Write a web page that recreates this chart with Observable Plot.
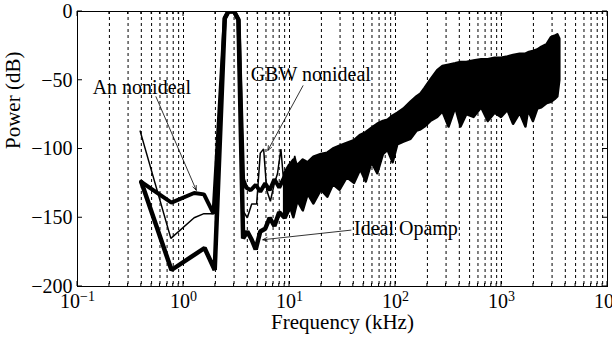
<!DOCTYPE html>
<html><head><meta charset="utf-8">
<script src="https://cdn.jsdelivr.net/npm/d3@7"></script>
<script src="https://cdn.jsdelivr.net/npm/@observablehq/plot@0.6"></script>
<style>
body{margin:0;background:#fff}
#chart svg{background:#fff}
#chart svg, #chart svg text, #chart svg tspan{font-family:"Liberation Serif","Times New Roman",serif !important;}
</style></head><body><div id="chart"></div>
<script>
// ---- tick values ----
const xTickExps = [-1, 0, 1, 2, 3, 4];
const yTicks = [0, -50, -100, -150, -200];

// ---- Ideal Opamp (thick, lower branch) ----
const freqIdeal = [0.40, 0.77, 1.58, 1.97, 2.45, 2.65, 3.0, 3.3, 3.65, 4.0, 4.4, 4.8, 5.3, 5.9, 6.5, 7.2, 8.0, 9.0, 10.0, 11.0];
const powIdeal  = [-124, -188, -172, -188, -5, 0, 0, -6, -165, -160, -166, -173, -160, -158, -150, -156, -146, -150, -142, -140];

// ---- An nonideal (thick, upper branch) ----
const freqAn = [0.40, 0.77, 1.26, 1.56, 1.92, 2.45, 2.65, 3.0, 3.3, 3.65, 3.9, 4.3, 4.8, 5.3, 5.9, 6.5, 7.2, 8.0, 9.0, 10.0, 11.0];
const powAn  = [-124, -139, -132, -133, -147, -5, 0, 0, -6, -122, -128, -130, -126, -131, -125, -130, -122, -128, -120, -125, -118];

// ---- GBW nonideal (thin) ----
const freqGBW = [0.39, 0.76, 1.26, 1.56, 1.95, 2.45, 2.65, 3.0, 3.3, 3.65, 4.0, 4.4, 4.9, 5.3, 5.7, 6.1, 6.6, 7.2, 7.7, 8.3, 8.9, 9.6, 10.5, 11.2, 12.0];
const powGBW  = [-87, -165, -150, -147, -147, -5, 0, 0, -6, -145, -150, -140, -140, -103, -100, -130, -138, -125, -118, -100, -128, -135, -118, -105, -115];

// ---- dense high-frequency noise band (upper / lower envelope) ----
const bandF   = [9, 10, 11, 12, 13.5, 15, 17, 20, 23, 26, 30, 35, 41, 47, 53, 60, 68, 77, 85, 95, 105, 120, 140, 160, 174, 190, 215, 250, 280, 320, 370, 415, 470, 550, 650, 750, 870, 1000, 1150, 1300, 1500, 1700, 1800, 2000, 2200, 2400, 2700, 2960, 3200, 3400, 3550];
const bandTop = [-118, -112, -108, -112, -108, -110, -106, -104, -103, -100, -98, -96, -94, -90, -88, -85, -82, -80, -79, -76, -74, -71, -66, -62, -60, -56, -50, -43, -40, -39, -38, -37, -37, -36, -35, -35, -34, -34, -33, -32, -31, -31, -30, -29, -28, -26, -24, -19, -18, -17, -20];
const bandBot = [-150, -140, -150, -138, -145, -133, -140, -130, -135, -126, -130, -121, -125, -115, -124, -110, -118, -104, -101, -110, -97, -95, -93, -87, -86, -84, -80, -77, -73, -84, -70, -84, -75, -77, -70, -80, -74, -77, -72, -82, -74, -84, -72, -80, -71, -70, -67, -66, -64, -62, -50];

// ---- annotations ----
const annoText = ["An nonideal", "GBW nonideal", "Ideal Opamp"];
const annoX    = [0.139, 4.3, 40.6];
const annoY    = [-55, -46, -158];
const arrowX1  = [0.55, 13.4, 38];
const arrowY1  = [-62, -54, -159];
const arrowX2  = [1.32, 6.25, 5.6];
const arrowY2  = [-130, -101, -166];

// ---- build tables ----
const toRows = (fs, ps) => fs.map((f, i) => ({f, p: ps[i]}));
const ideal = toRows(freqIdeal, powIdeal);
const an = toRows(freqAn, powAn);
const gbw = toRows(freqGBW, powGBW);
const band = bandF.map((f, i) => ({f, hi: bandTop[i], lo: bandBot[i]}));
const annos = annoText.map((t, i) => ({t, x: annoX[i], y: annoY[i]}));
const arrows = arrowX1.map((x1, i) => ({x1, y1: arrowY1[i], x2: arrowX2[i], y2: arrowY2[i]}));

const majorX = xTickExps.map(e => 10 ** e);
const minorX = [];
for (const e of xTickExps.slice(0, -1)) for (let m = 2; m <= 9; m++) minorX.push(m * 10 ** e);
const gridX = [...majorX, ...minorX];

const FONT = "'Liberation Serif', 'Times New Roman', serif";

const chart = Plot.plot({
  width: 612,
  height: 347,
  marginLeft: 77,
  marginRight: 5,
  marginTop: 11,
  marginBottom: 61,
  style: {fontFamily: FONT, fontSize: "20px", color: "black", background: "white"},
  x: {type: "log", domain: [0.1, 1e4]},
  y: {domain: [-200, 0]},
  marks: [
    Plot.ruleX(gridX, {stroke: "black", strokeWidth: 1, strokeDasharray: "3,3"}),
    Plot.areaY(band, {x: "f", y1: "lo", y2: "hi", fill: "black", stroke: "black", strokeWidth: 2.5, clip: true}),
    Plot.line(gbw, {x: "f", y: "p", stroke: "black", strokeWidth: 1.5, strokeLinejoin: "miter", clip: true}),
    Plot.line(an, {x: "f", y: "p", stroke: "black", strokeWidth: 4, strokeLinejoin: "miter", clip: true}),
    Plot.line(ideal, {x: "f", y: "p", stroke: "black", strokeWidth: 4.5, strokeLinejoin: "miter", clip: true}),
    Plot.arrow(arrows, {x1: "x1", y1: "y1", x2: "x2", y2: "y2", stroke: "black", strokeWidth: 0.8, headLength: 9, headAngle: 45}),
    Plot.text(annos, {x: "x", y: "y", text: "t", textAnchor: "start", fill: "black", fontSize: 20}),
    Plot.frame({stroke: "black", strokeWidth: 1}),
    Plot.axisY({ticks: yTicks, anchor: "left", tickSize: 0, tickPadding: 5, label: null,
      tickFormat: d => d < 0 ? "\u2212" + (-d) : String(d), fontSize: 20}),
    Plot.axisX({ticks: majorX, anchor: "bottom", tickSize: 0, tickPadding: 7, label: null,
      tickFormat: d => "10^" + Math.round(Math.log10(d)), fontSize: 20}),
    Plot.text(["Frequency (kHz)"], {frameAnchor: "bottom", dy: 42, fontSize: 21}),
    Plot.text(["Power (dB)"], {frameAnchor: "left", dx: -64, rotate: -90, fontSize: 21})
  ]
});

document.getElementById("chart").appendChild(chart);

// inward tick marks drawn with the chart's own scales
const sx = chart.scale("x"), sy = chart.scale("y");
const svg = d3.select(chart);
const g = svg.append("g").attr("stroke", "black").attr("stroke-width", 1);
const [xl, xr] = sx.range, [yb, yt] = sy.range;
for (const v of majorX) {
  const px = sx.apply(v);
  g.append("line").attr("x1", px).attr("x2", px).attr("y1", yb).attr("y2", yb - 5);
  g.append("line").attr("x1", px).attr("x2", px).attr("y1", yt).attr("y2", yt + 5);
}
for (const v of minorX) {
  const px = sx.apply(v);
  g.append("line").attr("x1", px).attr("x2", px).attr("y1", yb).attr("y2", yb - 3);
  g.append("line").attr("x1", px).attr("x2", px).attr("y1", yt).attr("y2", yt + 3);
}
for (const v of yTicks) {
  const py = sy.apply(v);
  g.append("line").attr("x1", xl).attr("x2", xl + 5).attr("y1", py).attr("y2", py);
  g.append("line").attr("x1", xr).attr("x2", xr - 5).attr("y1", py).attr("y2", py);
}

// superscript exponents on x tick labels
svg.selectAll('g[aria-label="x-axis tick label"] text').each(function() {
  const s = this.textContent;
  if (!s.includes("^")) return;
  const [base, exp] = s.split("^");
  const e = exp.replace("-", "\u2212");
  const t = d3.select(this);
  t.text(null);
  t.append("tspan").text(base);
  t.append("tspan").attr("dy", "-0.45em").attr("font-size", "14px").text(e);
});
svg.selectAll("text").attr("font-family", FONT);
</script>
</body></html>
